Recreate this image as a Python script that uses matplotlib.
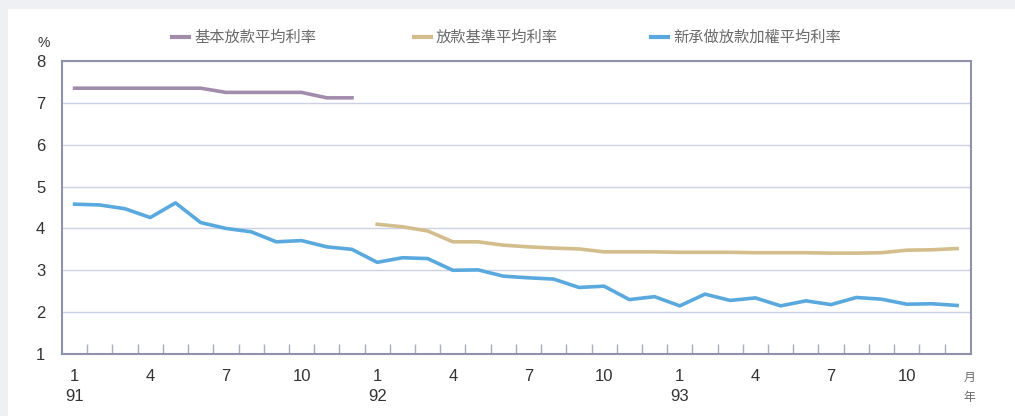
import matplotlib.pyplot as plt
from matplotlib.patches import Rectangle
from matplotlib.lines import Line2D

# monthly data, Jan 91 .. Dec 93
months = list(range(36))
month_labels = ['1', '4', '7', '10'] * 3
year_labels = ['91', '92', '93']

prime_rate = [7.35, 7.35, 7.35, 7.35, 7.35, 7.35,
              7.25, 7.25, 7.25, 7.25, 7.12, 7.12]
base_rate = [4.10, 4.04, 3.94, 3.68, 3.68, 3.60, 3.56, 3.53, 3.51, 3.44,
             3.44, 3.44, 3.43, 3.43, 3.43, 3.42, 3.42, 3.42, 3.41, 3.41,
             3.42, 3.48, 3.49, 3.52]
new_loan_rate = [4.58, 4.56, 4.47, 4.26, 4.61, 4.14, 4.00, 3.92, 3.68, 3.71,
                 3.56, 3.50, 3.19, 3.30, 3.28, 3.00, 3.01, 2.86, 2.82, 2.79,
                 2.59, 2.62, 2.30, 2.37, 2.15, 2.43, 2.28, 2.34, 2.15, 2.27,
                 2.18, 2.35, 2.31, 2.19, 2.20, 2.16]
series_names = ['基本放款平均利率', '放款基準平均利率', '新承做放款加權平均利率']

COLORS = {'prime': '#a28cab', 'base': '#d3bd8c', 'new': '#5aa9de'}
CJK = ['Noto Sans CJK TC', 'DejaVu Sans']
NUM = ['Liberation Sans', 'DejaVu Sans']

fig = plt.figure(figsize=(10.15, 4.16), dpi=100, facecolor='#eef0f3')
fig.patches.append(Rectangle((8 / 1015, 0), 1, 1 - 9 / 416,
                             transform=fig.transFigure, facecolor='white',
                             edgecolor='none', zorder=-5))

ax = fig.add_axes([62 / 1015, 62 / 416, 909 / 1015, 293 / 416])
ax.set_zorder(2)
ax.set_facecolor('white')

ax.plot(months[:12], prime_rate, color=COLORS['prime'], lw=2.6,
        solid_joinstyle='round', zorder=3)
ax.plot(months[12:], base_rate, color=COLORS['base'], lw=2.6,
        solid_joinstyle='round', zorder=3)
ax.plot(months, new_loan_rate, color=COLORS['new'], lw=2.6,
        solid_joinstyle='round', zorder=3)

ax.set_xlim(-0.5, 35.55)
ax.set_ylim(1, 8)
ax.set_yticks(range(1, 9))
ax.yaxis.grid(True, color='#cdd1e4', lw=1)
ax.set_axisbelow(True)
ax.tick_params(axis='y', length=0, pad=12, labelsize=12, labelcolor='#333333')
for lbl in ax.get_yticklabels():
    lbl.set_family(NUM)

ax.set_xticks([m + 0.5 for m in range(35)])
ax.set_xticklabels([])
ax.tick_params(axis='x', direction='in', length=7, color='#a8acbd', width=1)

for s in ax.spines.values():
    s.set_color('#8e93ab')
    s.set_linewidth(1.5)

# month / year labels
for i, m in enumerate(range(0, 36, 3)):
    ax.text(m, -0.052, month_labels[i], transform=ax.get_xaxis_transform(),
            ha='center', va='top', fontsize=12, color='#333333', family=NUM)
for i, yr in enumerate(year_labels):
    ax.text(i * 12, -0.12, yr, transform=ax.get_xaxis_transform(),
            ha='center', va='top', fontsize=12, color='#333333', family=NUM)
fig.text(969 / 1015, 1 - 377 / 416, '月', ha='center', va='center',
         fontsize=8.5, color='#666666', family=CJK)
fig.text(969 / 1015, 1 - 397 / 416, '年', ha='center', va='center',
         fontsize=8.5, color='#666666', family=CJK)
fig.text(44 / 1015, 1 - 43 / 416, '%', ha='center', va='center',
         fontsize=10, color='#333333', family=NUM)

# legend
leg_x = [172, 414, 651]
for key, name, x in zip(('prime', 'base', 'new'), series_names, leg_x):
    fig.lines.append(Line2D([x / 1015, (x + 17) / 1015], [1 - 37 / 416] * 2,
                            transform=fig.transFigure, color=COLORS[key], lw=3))
    fig.text((x + 22) / 1015, 1 - 37 / 416, name, ha='left', va='center',
             fontsize=11, color='#6a6a6a', family=CJK)

fig.savefig('out.png', dpi=100, facecolor=fig.get_facecolor())
